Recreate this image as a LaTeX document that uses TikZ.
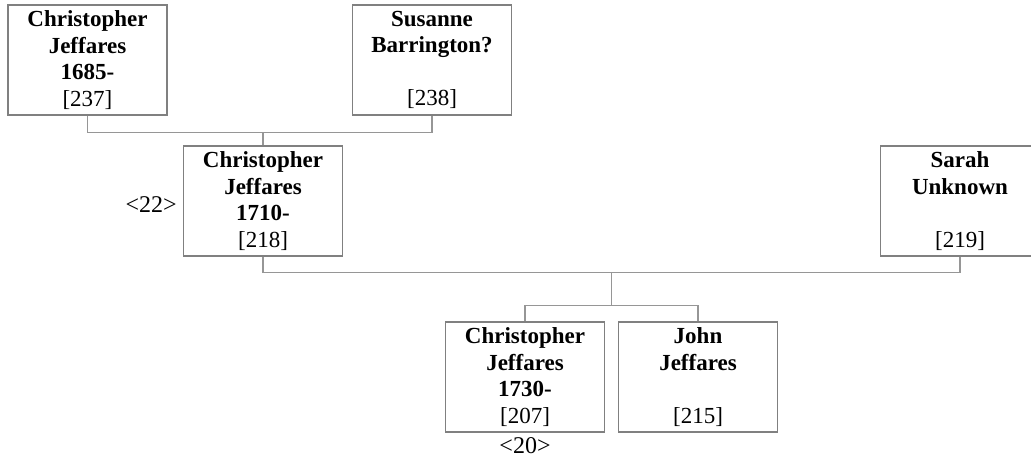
\documentclass[tikz,border=0pt]{standalone}
\usepackage{fontspec}
\setmainfont{Liberation Serif}
\usetikzlibrary{positioning,calc}
\definecolor{framegray}{RGB}{128,128,128}
\definecolor{linkgray}{RGB}{150,150,150}
\tikzset{
  person/.style={draw=framegray, line width=1.2pt, text width=150pt, align=center,
    minimum width=159pt, minimum height=110pt, inner xsep=4.5pt, inner ysep=0pt,
    font=\fontsize{23}{26.5}\selectfont},
  link/.style={draw=linkgray, line width=1.3pt},
  tag/.style={inner sep=0pt, font=\fontsize{24}{26.5}\selectfont}
}
\begin{document}
\begin{tikzpicture}[x=1pt, y=-1pt]
  \useasboundingbox (0,0) rectangle (1031,461);

  % grandparents
  \node[person] (chris1685) at (87.5,60) {\textbf{Christopher}\\\textbf{Jeffares}\\\textbf{1685-}\\{}[237]};
  \node[person] (susanne) at (432,60) {\textbf{Susanne}\\\textbf{Barrington?}\\\mbox{}\\{}[238]};

  % parents
  \node[person] (chris1710) at (263,201) {\textbf{Christopher}\\\textbf{Jeffares}\\\textbf{1710-}\\{}[218]};
  \node[person] (sarah) at (960,201) {\textbf{Sarah}\\\textbf{Unknown}\\\mbox{}\\{}[219]};
  \node[tag, left=6pt of chris1710, yshift=-3.5pt] (gen22) {<22>};

  % children
  \node[person] (chris1730) at (525,377) {\textbf{Christopher}\\\textbf{Jeffares}\\\textbf{1730-}\\{}[207]};
  \node[person] (john) at (698,377) {\textbf{John}\\\textbf{Jeffares}\\\mbox{}\\{}[215]};
  \node[tag, below=5pt of chris1730] (gen20) {<20>};

  \draw[link] (chris1685.south) -- ++(0,17) coordinate (ab) -| (susanne.south);
  \draw[link] (chris1710.north) -- (chris1710.north |- ab);
  \draw[link] (chris1710.south) -- ++(0,16) coordinate (cs) -| (sarah.south);
  \draw[link] ($(cs)!.5!(cs -| sarah.south)$) -- ++(0,33) coordinate (kids);
  \draw[link] (chris1730.north) |- (kids) -| (john.north);
\end{tikzpicture}
\end{document}
